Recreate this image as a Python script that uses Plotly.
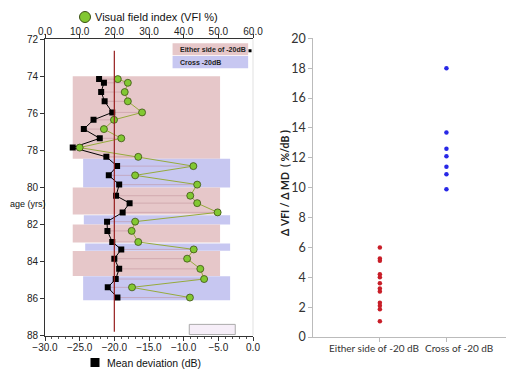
import plotly.graph_objects as go

# page body has an 8px margin, so the figure is laid out in page pixels minus 8
OFF = 8
W, H = 506, 362


def px(x):
    return (x - OFF) / W


def py(y):
    return 1 - (y - OFF) / H


# ---- data (left chart) ----
ages = [74.15, 74.35, 74.85, 75.35, 75.95, 76.35, 76.85, 77.35, 77.85, 78.35, 78.85, 79.35,
        79.85, 80.45, 80.85, 81.35, 81.85, 82.35, 82.95, 83.35, 83.85, 84.4, 84.95, 85.4, 85.95]
md = [-22.2, -21.5, -21.9, -21.4, -20.3, -23.0, -24.4, -22.1, -26.0, -21.15, -19.6, -20.8,
      -19.3, -19.75, -17.8, -18.8, -21.05, -21.0, -20.3, -19.0, -20.0, -19.3, -19.8, -20.95, -19.55]
vfi = [21.0, 23.9, 23.0, 23.9, 28.0, 19.9, 17.0, 22.0, 10.0, 26.9, 42.8, 26.0,
       43.9, 41.9, 43.9, 49.8, 26.0, 25.0, 26.9, 42.9, 41.0, 44.8, 45.9, 25.1, 41.8]

band_kind = ["either", "cross", "either", "cross", "either", "cross", "either", "cross"]
band_start = [74.0, 78.45, 80.0, 81.5, 82.0, 83.03, 83.44, 84.8]
band_end = [78.45, 80.0, 81.46, 82.0, 82.97, 83.42, 84.78, 86.1]
band_left = [-26.0, -24.5, -26.0, -24.4, -26.0, -24.2, -26.0, -24.5]
band_right = [-4.75, -3.3, -4.75, -3.3, -4.75, -3.3, -4.75, -3.3]

age_ticks = [72, 74, 76, 78, 80, 82, 84, 86, 88]
md_ticks = [-30, -25, -20, -15, -10, -5, 0]
vfi_ticks = [0, 10, 20, 30, 40, 50, 60]

# ---- data (right chart) ----
groups = ["Either side of -20 dB", "Cross of -20 dB"]
either_vals = [6.0, 5.25, 5.1, 4.2, 4.0, 3.6, 3.25, 3.05, 2.3, 2.1, 1.85, 1.05]
cross_vals = [18.0, 13.7, 12.6, 12.1, 11.4, 10.9, 9.9]
ratio_ticks = [0, 2, 4, 6, 8, 10, 12, 14, 16, 18, 20]

PINK = "rgb(230,199,201)"
BLUE = "rgb(199,199,241)"
LFONT = "Liberation Sans, Arial, sans-serif"
RFONT = "Lato, Liberation Sans, sans-serif"

fig = go.Figure()

# connectors between MD and VFI at each age (VFI mapped onto MD axis: 0..60 -> -30..0)
cx, cy = [], []
for a, m, v in zip(ages, md, vfi):
    cx += [m, -30 + v / 2, None]
    cy += [a, a, None]
fig.add_trace(go.Scatter(x=cx, y=cy, mode="lines", xaxis="x", yaxis="y",
                         line=dict(color="rgba(190,140,150,0.7)", width=0.7),
                         hoverinfo="skip", showlegend=False))

# VFI on top axis
fig.add_trace(go.Scatter(x=vfi, y=ages, mode="lines+markers", xaxis="x3", yaxis="y",
                         line=dict(color="rgb(150,170,60)", width=1),
                         marker=dict(symbol="circle", size=7, color="rgb(130,200,50)",
                                     line=dict(color="rgb(60,80,20)", width=0.8)),
                         showlegend=False))

# MD
fig.add_trace(go.Scatter(x=md, y=ages, mode="lines+markers", xaxis="x", yaxis="y",
                         line=dict(color="black", width=1),
                         marker=dict(symbol="square", size=6, color="black"),
                         showlegend=False))

# stray small marker near top-right
fig.add_trace(go.Scatter(x=[-0.43], y=[72.62], mode="markers", xaxis="x", yaxis="y",
                         marker=dict(symbol="square", size=3, color="black"),
                         showlegend=False, hoverinfo="skip"))

# right chart
fig.add_trace(go.Scatter(x=[1] * len(either_vals), y=either_vals, mode="markers",
                         xaxis="x2", yaxis="y2",
                         marker=dict(size=4.5, color="rgb(200,30,40)"), showlegend=False))
fig.add_trace(go.Scatter(x=[2] * len(cross_vals), y=cross_vals, mode="markers",
                         xaxis="x2", yaxis="y2",
                         marker=dict(size=4.5, color="rgb(40,40,230)"), showlegend=False))

shapes = []
for k, a0, a1, l, r in zip(band_kind, band_start, band_end, band_left, band_right):
    shapes.append(dict(type="rect", xref="x", yref="y", x0=l, x1=r, y0=a0, y1=a1,
                       fillcolor=PINK if k == "either" else BLUE, line=dict(width=0),
                       layer="below"))
# -20 dB reference line
shapes.append(dict(type="line", xref="x", yref="y", x0=-20, x1=-20, y0=72.62, y1=87.8,
                   line=dict(color="rgb(150,30,30)", width=1.2)))
# in-plot legend boxes
shapes.append(dict(type="rect", xref="x", yref="y", x0=-11.6, x1=-0.7, y0=72.22, y1=72.86,
                   fillcolor=PINK, line=dict(width=0), layer="below"))
shapes.append(dict(type="rect", xref="x", yref="y", x0=-11.6, x1=-0.7, y0=72.9, y1=73.57,
                   fillcolor=BLUE, line=dict(width=0), layer="below"))
# empty box bottom right
shapes.append(dict(type="rect", xref="x", yref="y", x0=-9.19, x1=-2.56, y0=87.4, y1=87.95,
                   fillcolor="rgb(246,238,248)", line=dict(color="rgb(170,170,170)", width=1)))
# right frame line of left plot
shapes.append(dict(type="line", xref="paper", yref="paper", x0=px(253), x1=px(253),
                   y0=py(335.5), y1=py(39.3),
                   line=dict(color="rgb(225,225,225)", width=1)))
# legend symbols
shapes.append(dict(type="circle", xref="paper", yref="paper", xsizemode="pixel",
                   ysizemode="pixel", xanchor=px(85), yanchor=py(17),
                   x0=-5.5, x1=5.5, y0=-5.5, y1=5.5, fillcolor="rgb(130,200,50)",
                   line=dict(color="rgb(60,80,20)", width=1)))
shapes.append(dict(type="rect", xref="paper", yref="paper", xsizemode="pixel",
                   ysizemode="pixel", xanchor=px(95), yanchor=py(362.5),
                   x0=-4.5, x1=4.5, y0=-4.5, y1=4.5, fillcolor="black",
                   line=dict(width=0)))

annotations = [
    dict(text="Visual field index (VFI %)", xref="paper", yref="paper", x=px(93),
         y=py(17), xanchor="left", yanchor="middle", showarrow=False,
         font=dict(family=LFONT, size=11, color="#111")),
    dict(text="Mean deviation (dB)", xref="paper", yref="paper", x=px(105),
         y=py(362.5), xanchor="left", yanchor="middle", showarrow=False,
         font=dict(family=LFONT, size=10.5, color="#111")),
    dict(text="age (yrs)", xref="paper", yref="paper", x=0, y=py(204),
         xanchor="left", yanchor="middle", showarrow=False,
         font=dict(family=LFONT, size=9, color="#111")),
    dict(text="<b>Either side of -20dB</b>", xref="x", yref="y", x=-10.8, y=72.54,
         xanchor="left", yanchor="middle", showarrow=False,
         font=dict(family=LFONT, size=7, color="#222")),
    dict(text="<b>Cross -20dB</b>", xref="x", yref="y", x=-10.8, y=73.24,
         xanchor="left", yanchor="middle", showarrow=False,
         font=dict(family=LFONT, size=7, color="#222")),
    dict(text="<b>Δ VFI / Δ MD  ( %/dB )</b>", xref="paper", yref="paper",
         x=px(285), y=py(183), textangle=-90, xanchor="center", yanchor="middle",
         showarrow=False, font=dict(family=RFONT, size=10.5, color="#222")),
    dict(text=groups[0], xref="paper", yref="paper", x=px(374), y=py(348.3),
         xanchor="center", yanchor="middle", showarrow=False,
         font=dict(family=RFONT, size=10, color="#333")),
    dict(text=groups[1], xref="paper", yref="paper", x=px(459), y=py(348.3),
         xanchor="center", yanchor="middle", showarrow=False,
         font=dict(family=RFONT, size=10, color="#333")),
]

tickfont_l = dict(family=LFONT, size=10, color="#222")
tickfont_r = dict(family=RFONT, size=12.5, color="#333")

fig.update_layout(
    width=W, height=H, margin=dict(l=0, r=0, t=0, b=0, autoexpand=False),
    paper_bgcolor="white", plot_bgcolor="rgba(0,0,0,0)",
    shapes=shapes, annotations=annotations,
    xaxis=dict(domain=[px(45), px(253)], range=[-30, 0], tickvals=md_ticks,
               tickformat=".1f", ticks="outside", ticklen=4, tickcolor="#333",
               showline=True, linecolor="#333", linewidth=1, showgrid=False,
               zeroline=False, tickfont=tickfont_l, anchor="y", automargin=False,
               ticklabelstandoff=-2,
               minor=dict(dtick=1, ticks="outside", ticklen=2, tickcolor="#555")),
    xaxis3=dict(domain=[px(45), px(253)], range=[0, 60], tickvals=vfi_ticks,
                tickformat=".1f", side="top", overlaying="x", anchor="y",
                ticks="outside", ticklen=4, tickcolor="#333", showline=True,
                linecolor="#333", linewidth=1, showgrid=False, zeroline=False,
                tickfont=tickfont_l, automargin=False, ticklabelstandoff=-5),
    yaxis=dict(domain=[py(335.5), py(39.3)], range=[88, 72], tickvals=age_ticks,
               ticks="outside", ticklen=4, tickcolor="#333", showline=True,
               linecolor="#333", linewidth=1, showgrid=False, zeroline=False,
               tickfont=tickfont_l, anchor="x", automargin=False),
    xaxis2=dict(domain=[px(313.3), min(1.0, px(513))], range=[0, 3], tickvals=[1, 2],
                ticktext=["", ""], ticks="outside", ticklen=4, tickcolor="#bbb",
                showline=True, linecolor="#bbb", linewidth=1, showgrid=False,
                zeroline=False, anchor="y2", automargin=False),
    yaxis2=dict(domain=[py(337), py(38.3)], range=[0, 20], tickvals=ratio_ticks,
                ticks="outside", ticklen=4, tickcolor="#bbb", showline=True,
                linecolor="#bbb", linewidth=1, showgrid=False, zeroline=False,
                tickfont=tickfont_r, anchor="x2", automargin=False),
)

fig.write_html("out.html")
